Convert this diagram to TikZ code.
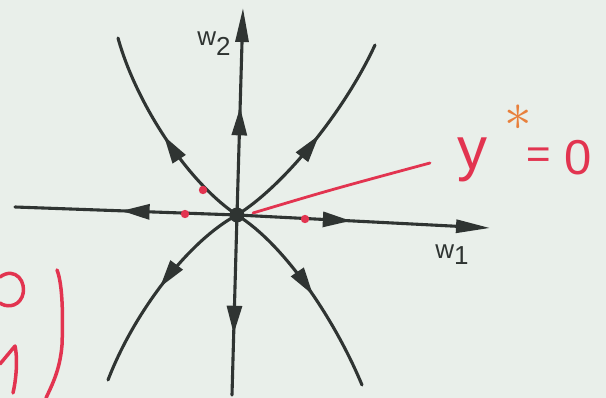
\documentclass[tikz,border=0pt]{standalone}
\usepackage{fontspec}
\setmainfont{Liberation Sans}
\usetikzlibrary{arrows.meta,decorations.markings}
\definecolor{bg}{RGB}{233,239,234}
\definecolor{ink}{RGB}{47,52,50}
\definecolor{pen}{RGB}{226,52,80}
\definecolor{starc}{RGB}{232,128,60}
\begin{document}
\begin{tikzpicture}[x=1pt,y=-1pt,
  axis/.style={ink,line width=3.1pt,line cap=round},
  tipend/.style={-{Triangle[length=34pt,width=13pt]}},
  midarrow/.style={postaction={decorate},decoration={markings,mark=at position #1 with {\arrow{Triangle[length=28pt,width=15pt]}}}},
  redpen/.style={pen,line width=3.5pt,line cap=round,line join=round},
  lbl/.style={ink,inner sep=0pt,font=\fontsize{26}{26}\selectfont},
  bigred/.style={pen,inner sep=0pt}]
\fill[bg] (0,0) rectangle (606,398);
\useasboundingbox (0,0) rectangle (606,398);
% points
\coordinate (o) at (237,215);
\coordinate (n) at (243,8);
\coordinate (s) at (232,395);
\coordinate (w) at (15,207);
\coordinate (e) at (490,228);
\coordinate (nw) at (118,38);
\coordinate (ne) at (375,45);
\coordinate (sw) at (108,380);
\coordinate (se) at (362,385);
% red line (under the black)
\draw[redpen,line width=2.8pt] (o) ++(16,-2) coordinate (r0) (r0) .. controls (330,190) .. (430,163) coordinate (r1);
% axes
\draw[axis,tipend,midarrow=0.52] (o) -- (n);
\draw[axis,midarrow=0.66] (o) -- (s);
\draw[axis,midarrow=0.52] (o) -- (w);
\draw[axis,tipend,midarrow=0.45] (o) -- (e);
% trajectories
\draw[axis,midarrow=0.5] (o) .. controls (185,180) and (135,100) .. (nw);
\draw[axis,midarrow=0.52] (o) .. controls (285,185) and (345,110) .. (ne);
\draw[axis,midarrow=0.5] (o) .. controls (190,240) and (135,310) .. (sw);
\draw[axis,midarrow=0.52] (o) .. controls (285,245) and (335,320) .. (se);
% centre
\node[circle,fill=ink,minimum size=15pt,inner sep=0pt] (c) at (o) {};
% red dots
\fill[pen] (203,190) circle (4.2pt) coordinate (d1);
\fill[pen] (185,214) circle (4.2pt) coordinate (d2);
\fill[pen] (305,219) circle (4.2pt) coordinate (d3);
% labels
\node[lbl] (lw2) at (214,44) {w\raisebox{-10pt}{2}};
\node[lbl] (lw1) at (452,255) {w\raisebox{-6pt}{1}};
% y* = 0
\node[bigred,anchor=base,font=\fontsize{60}{60}\selectfont] (ty) at (472,170) {y};
\node[anchor=center,inner sep=0pt,text=starc,scale=5.5] (ts) at (518,118) {$\ast$};
\node[bigred,anchor=center,font=\fontsize{42}{42}\selectfont] (te) at (539,158) {=};
\node[bigred,anchor=base,font=\fontsize{49}{49}\selectfont] (tz) at (578,175) {0};
% left fragments
\draw[redpen] (0,277) .. controls (15,266) and (28,282) .. (22,297) .. controls (17,308) and (5,307) .. (0,303);
\draw[redpen] (57,270) .. controls (63,285) and (63,320) .. (62,345) .. controls (60,370) and (52,385) .. (46,398);
\draw[redpen] (0,364) -- (15,346) .. controls (18,360) and (16,380) .. (13,393);
\end{tikzpicture}
\end{document}
